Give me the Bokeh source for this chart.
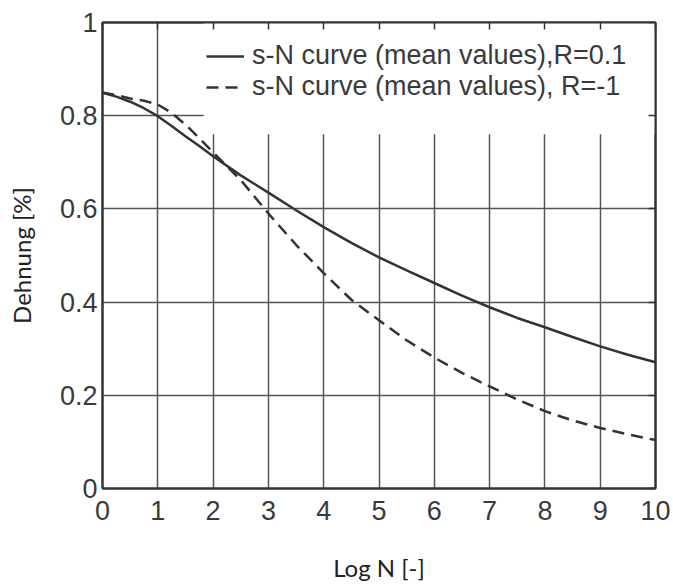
from bokeh.plotting import figure
from bokeh.models import (Range1d, FixedTicker, LinearAxis, BoxAnnotation,
                          Legend, LegendItem)
from bokeh.embed import file_html
from bokeh.resources import INLINE

# ---- data ----
log_n = [0, 0.25, 0.5, 0.75, 1, 1.25, 1.5, 1.75, 2, 2.5, 3, 3.5, 4, 4.5, 5, 5.5,
         6, 6.5, 7, 7.5, 8, 8.5, 9, 9.5, 10]
strain_r01 = [0.849, 0.841, 0.830, 0.816, 0.799, 0.778, 0.756, 0.735, 0.713, 0.672, 0.635,
              0.597, 0.561, 0.527, 0.496, 0.468, 0.441, 0.414, 0.389, 0.366, 0.346,
              0.325, 0.305, 0.287, 0.271]
strain_rm1 = [0.850, 0.844, 0.837, 0.832, 0.824, 0.806, 0.781, 0.752, 0.721, 0.662, 0.590,
              0.523, 0.462, 0.405, 0.361, 0.318, 0.281, 0.248, 0.219, 0.191, 0.166,
              0.146, 0.130, 0.116, 0.104]
label_r01 = "s-N curve (mean values),R=0.1"
label_rm1 = "s-N curve (mean values), R=-1"
x_ticks = [0, 1, 2, 3, 4, 5, 6, 7, 8, 9, 10]
y_ticks = [0, 0.2, 0.4, 0.6, 0.8, 1]
y_tick_labels = ["0", "0.2", "0.4", "0.6", "0.8", "1"]
x_title = "Log N [-]"
y_title = "Dehnung [%]"

INK = "#333333"
GRID = "#555555"

p = figure(width=673, height=584, output_backend="svg", toolbar_location=None,
           x_range=Range1d(0, 10), y_range=Range1d(0, 1),
           min_border_left=102, min_border_right=18, min_border_top=22, min_border_bottom=95)
p.background_fill_color = "white"
p.border_fill_color = "white"
p.outline_line_color = INK
p.outline_line_width = 2

# axes
for ax in (p.xaxis[0], p.yaxis[0]):
    ax.major_label_text_font = "Liberation Sans"
    ax.major_label_text_font_size = "27px"
    ax.major_label_text_color = "#3a3a3a"
    ax.axis_label_text_font = "Lato"
    ax.axis_label_text_font_size = "24px"
    ax.axis_label_text_font_style = "normal"
    ax.axis_label_text_color = "#222222"
    ax.major_tick_out = 0
    ax.major_tick_in = 0
    ax.minor_tick_line_color = None
    ax.axis_line_color = INK
    ax.axis_line_width = 2

p.xaxis.ticker = FixedTicker(ticks=x_ticks)
p.yaxis.ticker = FixedTicker(ticks=y_ticks)
p.yaxis.major_label_overrides = {t: s for t, s in zip(y_ticks, y_tick_labels)}
p.xaxis.axis_label = x_title
p.yaxis.axis_label = y_title
p.xaxis.major_label_standoff = 12
p.yaxis.major_label_standoff = 5
p.xaxis.axis_label_standoff = 30
p.yaxis.axis_label_standoff = 21

# mirrored axes: inward ticks only, no labels
for place, ticks in (("above", x_ticks), ("right", y_ticks)):
    ax = LinearAxis(ticker=FixedTicker(ticks=ticks),
                    major_label_text_font_size="1px", major_label_text_color=None,
                    major_tick_in=7, major_tick_out=0, major_tick_line_color=INK,
                    major_tick_line_width=1.5, minor_tick_line_color=None,
                    axis_line_color=INK, axis_line_width=2, major_label_standoff=0)
    p.add_layout(ax, place)

# grid
p.xgrid.ticker = FixedTicker(ticks=x_ticks)
p.ygrid.ticker = FixedTicker(ticks=y_ticks)
for g in (p.xgrid[0], p.ygrid[0]):
    g.grid_line_color = GRID
    g.grid_line_width = 1.5
    g.level = "image"

# white area behind the legend (grid lines stop there)
p.add_layout(BoxAnnotation(left=1.83, right=10, bottom=0.76, top=1,
                           fill_color="white", fill_alpha=1, line_color=None,
                           level="underlay"))

r1 = p.line(log_n, strain_r01, line_color=INK, line_width=2.5)
r2 = p.line(log_n, strain_rm1, line_color=INK, line_width=2.5, line_dash="12 7")

legend = Legend(items=[LegendItem(label=label_r01, renderers=[r1]),
                       LegendItem(label=label_rm1, renderers=[r2])],
                location=(104, 386), orientation="vertical",
                background_fill_alpha=0, border_line_color=None,
                padding=0, margin=0, spacing=0,
                glyph_width=38, glyph_height=20, label_standoff=8,
                label_text_font="Liberation Sans", label_text_font_size="27px",
                label_text_color="#3a3a3a")
p.add_layout(legend)

open("out.html", "w").write(file_html(p, INLINE))
